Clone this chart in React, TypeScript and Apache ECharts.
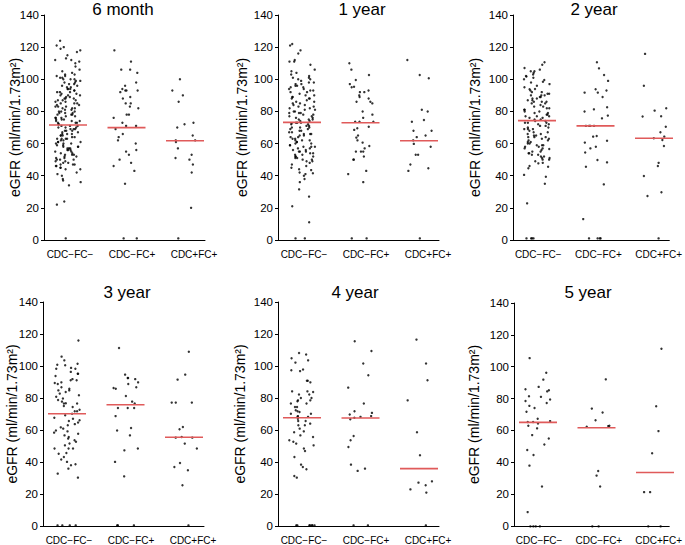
import React, { useEffect, useRef } from "react";
import * as echarts from "echarts";

const categories = ["CDC−FC−", "CDC−FC+", "CDC+FC+"];
const periods = ["6 month", "1 year", "2 year", "3 year", "4 year", "5 year"];
const yAxisName = "eGFR (ml/min/1.73m²)";

// ---- 6 month ----
const m6_negNeg = [124, 121, 120, 119, 118, 117, 115, 113, 112, 112, 111, 110, 108, 106, 105, 104, 103, 103, 102, 102, 101, 101, 100, 100, 100,
  99, 99, 98, 98, 97, 97, 96, 96, 95, 95, 94, 94, 94, 93, 93, 92, 92, 91, 91, 90, 90, 90, 89, 89, 88, 88, 88, 87, 87, 86, 86, 85, 85, 85, 84, 84, 83, 83, 82, 82, 82, 81, 81, 80, 80, 80, 79, 79, 78, 78, 78, 77, 77, 76, 76, 75, 75, 75, 74, 74, 73, 73, 73,
  72, 72, 71, 71, 71, 70, 70, 70, 69, 69, 68, 68, 68, 67, 67, 66, 66, 65, 65, 65, 64, 64, 63, 63, 63, 62, 62, 61, 61, 60, 60, 60, 59, 59, 58, 58, 57, 57, 57, 56, 56, 55, 55, 54, 54, 53, 53, 52, 52, 51, 51, 50, 50, 49, 49, 48, 48, 47, 47, 46, 46, 45, 45, 44, 44,
  92, 87, 83, 79, 76, 74, 69, 66, 63, 61, 58, 56, 53, 50, 47,
  42, 41, 40, 38, 37, 36, 34, 24, 22, 1];
const m6_negPos = [118, 111, 106, 106, 104, 98, 96, 94, 93, 93, 93, 92, 89, 88, 85, 85, 83, 82, 78, 78, 76, 73, 71, 71, 69, 66, 64, 62, 60, 56, 55, 53, 50, 48, 46, 43, 35, 1, 1];
const m6_posPos = [100, 93, 90, 86, 73, 72, 70, 65, 62, 62, 61, 57, 53, 51, 50, 47, 42, 20, 1];
const m6_medians = [71.6, 69.9, 61.8];

// ---- 1 year ----
const y1_negNeg = [122, 121, 118, 116, 112, 111, 111, 109, 106, 105, 104, 103, 102, 101, 101, 100, 100,
  99, 98, 98, 97, 97, 96, 96, 95, 95, 94, 93, 93, 92, 92, 91, 90, 90, 89, 89, 88, 88, 87, 86, 86, 85, 85, 84, 84, 83, 82, 82, 81, 81, 80, 80, 79, 79, 78, 78, 77, 77, 76, 76, 75, 75, 74, 74, 73, 73, 73,
  72.6, 72, 72, 71, 71, 70, 70, 69, 69, 68, 68, 67, 67, 66, 66, 65, 65, 64, 64, 63, 63, 62, 62, 61, 61, 60, 60, 59, 59, 58, 58, 57, 57, 56, 56, 55, 55, 55, 54, 54, 53, 53, 52, 52, 51, 51, 50, 50, 49, 49, 48, 47, 46, 45,
  94, 88, 83, 79, 75, 70, 66, 62, 58, 52,
  44, 43.5, 42, 41.5, 41, 40, 38, 36, 31.5, 27, 21, 11, 1, 1];
const y1_negPos = [110, 106, 102.7, 99.6, 97, 95, 95.4, 93, 92, 92, 90, 89, 88, 86, 86, 85, 80, 78, 76, 73.6, 73.6, 73.6, 70.5, 69.5, 68.5, 65, 63.7, 62, 60.6, 58.5, 57, 55, 55, 55, 52, 50, 50, 43, 41, 36, 1, 1];
const y1_posPos = [112, 102.7, 100.6, 81, 80, 74.7, 73.6, 68, 68, 65, 64, 62, 59.8, 58, 53, 53, 47, 44.6, 43, 1];
const y1_medians = [73.2, 73, 61.8];

// ---- 2 year ----
const y2_negNeg = [110.6, 109, 107, 106, 105, 105, 104, 103, 102, 101.7, 101, 100, 99.6, 98.5,
  98, 97, 96, 95, 94, 93.8, 93, 92, 92, 91, 91, 90, 90, 89, 89, 88, 88, 87, 87, 86, 86, 85, 85, 84, 83, 83, 82, 82, 81, 80, 80, 79, 79, 78, 78, 77, 77, 76, 76, 75, 75, 74, 74,
  73, 73, 72, 72, 71, 71, 70, 70, 69, 69, 68, 67, 67, 66, 66, 65, 65, 64, 64, 63, 63, 62, 62, 61, 61, 60, 60, 59, 59, 58, 58, 57, 57, 56.6, 56, 55, 55, 54, 54, 53, 53, 52, 52, 51, 51, 50, 50, 49,
  90, 86, 81, 77, 73, 69, 64, 59,
  48, 47.7, 46, 45.6, 44.6, 40.5, 39.4, 35, 22.8, 1, 1, 1, 1];
const y2_negPos = [110.6, 106.8, 102.7, 99, 93.8, 93, 91.7, 91.7, 89, 82.6, 81.3, 80, 77.4, 75.7, 71, 71, 71, 71, 64.7, 64.3, 61.8, 60.6, 58, 57, 54.4, 49.8, 48.3, 45.6, 34.6, 13, 1, 1, 1, 1];
const y2_posPos = [115.8, 96, 82, 80.5, 77, 76.8, 70.5, 67, 64.3, 63.3, 62.2, 58.5, 48, 46, 39.8, 29.7, 27.4, 1];
const y2_medians = [74.3, 71, 63.3];

// ---- 3 year ----
const y3_negNeg = [116, 106, 103.7, 101.6, 101, 100.6, 98.5, 98.5, 96.5, 95.4, 95.4, 92, 91.3, 91.3, 89.6, 89, 87, 85, 85, 83, 82, 81, 80, 79, 76.8, 76.8, 75.3, 74.7, 73, 72,
  70.5, 69.5, 67.4, 66.4, 65, 63.3, 61.2, 59.5, 58.7, 58, 56, 55, 54, 53, 50.8, 48.8, 48.8, 48.8, 45.6, 43.6, 40.5, 38.4, 36.3, 33.2, 30.7,
  99, 94, 90, 86, 84, 78, 77, 72, 68, 66, 64, 62, 60, 57, 52, 46, 42, 39,
  1, 1, 1, 1];
const y3_negPos = [111.4, 94.8, 92.7, 92.7, 92, 90, 89, 87, 86.5, 86, 81.5, 78, 76.8, 74, 74, 74, 69, 61.6, 60, 57, 48.8, 47.7, 40.5, 31.5, 1, 1, 1];
const y3_posPos = [109, 94.8, 91.7, 77.4, 77.4, 77.4, 62.2, 60.8, 56, 55.6, 55.6, 51.9, 48.8, 39.8, 37.3, 35.3, 26, 1];
const y3_medians = [70.5, 76.1, 55.8];

// ---- 4 year ----
const y4_negNeg = [108.3, 107.3, 105, 103.7, 102.3, 98, 97.5, 97, 91, 91, 90, 84.4, 84.4, 84, 82.4, 82.4, 80.3, 80.3, 78.8, 78.8, 78.2, 76.8, 76.8, 74.7, 74.7, 72.6, 72, 71.6, 70.5, 70.5,
  69, 68.5, 68.5, 67.4, 66, 66, 64.3, 63.3, 63.3, 61.2, 59.5, 59, 57, 56, 54, 53, 51.9, 50.8, 48.8, 47.3, 43.6, 38.8, 37.3, 35.9, 31.7, 30.7,
  1, 1, 1, 1, 1, 1, 1];
const y4_negPos = [115.6, 109.5, 101.7, 94.4, 86.7, 76.8, 72, 71, 70, 69, 68.5, 68, 67, 56.6, 54, 49.8, 38.8, 36.3, 34.9, 1, 1];
const y4_posPos = [116.6, 101.7, 91.3, 78.8, 59, 44.6, 28.4, 27.6, 26, 23.4, 21.4, 1];
const y4_medians = [68, 67.8, 36.3];

// ---- 5 year ----
const y5_negNeg = [105.7, 96.6, 92.3, 87.8, 86.3, 85.7, 85, 81.6, 82, 80, 79, 77.8, 76, 74.7, 72.3, 68, 66.5, 66, 66, 65, 63.6, 62, 57.8, 55.7, 52, 48.5, 45.4, 38.8, 25.8, 9.9, 1, 1, 1, 1];
const y5_negPos = [92.5, 74.3, 71.9, 67, 63.4, 63, 63.6, 35.5, 32.6, 25.8, 1, 1];
const y5_posPos = [111.5, 75.8, 60.3, 46.5, 22.3, 22.3, 1, 1];
const y5_medians = [65.7, 62.4, 34.5];

const groupsByPeriod = [
  [m6_negNeg, m6_negPos, m6_posPos],
  [y1_negNeg, y1_negPos, y1_posPos],
  [y2_negNeg, y2_negPos, y2_posPos],
  [y3_negNeg, y3_negPos, y3_posPos],
  [y4_negNeg, y4_negPos, y4_posPos],
  [y5_negNeg, y5_negPos, y5_posPos],
];
const mediansByPeriod = [m6_medians, y1_medians, y2_medians, y3_medians, y4_medians, y5_medians];

// layout (pixels)
const layout = [
  { ax: 44, top: 15, w: 161, tx: 123, ty: 9, gap: 22 },
  { ax: 278, top: 15, w: 161, tx: 362, ty: 9, gap: 29 },
  { ax: 513, top: 15, w: 160, tx: 594, ty: 9, gap: 31 },
  { ax: 43, top: 302, w: 161, tx: 127, ty: 292.5, gap: 24 },
  { ax: 278, top: 302, w: 161, tx: 355, ty: 292.5, gap: 31 },
  { ax: 514, top: 303, w: 160, tx: 588, ty: 292.5, gap: 33 },
];
const PH = 225;
const FONT = "'Liberation Sans', Arial, Helvetica, sans-serif";

function buildOption() {
  const grid: any[] = [];
  const xAxis: any[] = [];
  const yAxis: any[] = [];
  const series: any[] = [];
  const graphic: any[] = [];
  layout.forEach((p, k) => {
    const gA = grid.length;
    grid.push({ left: p.ax, top: p.top, width: p.w, height: PH });
    const gP = grid.length;
    grid.push({ left: p.ax - 5.25, top: p.top, width: 175.5, height: PH });
    xAxis.push({
      gridIndex: gA, type: "value", min: -0.419, max: 2.177,
      axisLine: { show: true, onZero: false, lineStyle: { color: "#000", width: 1 } },
      axisTick: { show: false }, splitLine: { show: false },
      axisLabel: {
        customValues: [0, 1, 2],
        formatter: (v: number) => categories[Math.round(v)] ?? "",
        fontSize: 10, color: "#000", margin: 9, fontFamily: FONT,
      },
    });
    yAxis.push({
      gridIndex: gA, type: "value", min: 0, max: 140, interval: 20,
      name: yAxisName, nameLocation: "middle", nameGap: p.gap, nameMoveOverlap: false,
      nameTextStyle: { fontSize: 14, color: "#000", fontFamily: FONT },
      axisLine: { show: true, onZero: false, lineStyle: { color: "#000", width: 1 } },
      axisTick: { show: true, length: 3, lineStyle: { color: "#000" } },
      splitLine: { show: false },
      axisLabel: { fontSize: 11.5, color: "#000", margin: 5, fontFamily: FONT },
    });
    const xi = xAxis.length;
    xAxis.push({ gridIndex: gP, type: "category", data: categories, show: false, jitter: 26, jitterOverlap: true });
    const yi = yAxis.length;
    yAxis.push({ gridIndex: gP, type: "value", min: 0, max: 140, show: false });
    const groups = groupsByPeriod[k];
    series.push({
      type: "scatter", xAxisIndex: xi, yAxisIndex: yi, silent: true,
      symbol: "circle", symbolSize: 2.4, itemStyle: { color: "#000" },
      data: groups.flatMap((g, ci) => g.map((v) => [ci, v])),
      z: 2,
    });
    series.push({
      type: "custom", xAxisIndex: xi, yAxisIndex: yi, silent: true, z: 5,
      encode: { x: 0, y: 1 },
      data: mediansByPeriod[k].map((m, ci) => [ci, m]),
      renderItem: (params: any, api: any) => {
        const pt = api.coord([api.value(0), api.value(1)]);
        return {
          type: "line",
          shape: { x1: pt[0] - 19, y1: pt[1], x2: pt[0] + 19, y2: pt[1] },
          style: { stroke: "#e05a5a", lineWidth: 1.6 },
        };
      },
    });
    graphic.push({
      type: "text", x: p.tx, y: p.ty,
      style: { text: periods[k], align: "center", verticalAlign: "middle", font: `17px ${FONT}`, fill: "#000" },
    });
  });
  return {
    animation: false,
    textStyle: { fontFamily: FONT },
    grid, xAxis, yAxis, series, graphic,
  };
}

export default function App() {
  const ref = useRef<HTMLDivElement>(null);
  useEffect(() => {
    if (!ref.current) return;
    const chart = echarts.init(ref.current, undefined, { renderer: "svg" });
    chart.setOption(buildOption() as any);
    return () => chart.dispose();
  }, []);
  return (
    <div
      ref={ref}
      style={{ position: "fixed", left: 0, top: 0, width: 685, height: 545, background: "#fff" }}
    />
  );
}
